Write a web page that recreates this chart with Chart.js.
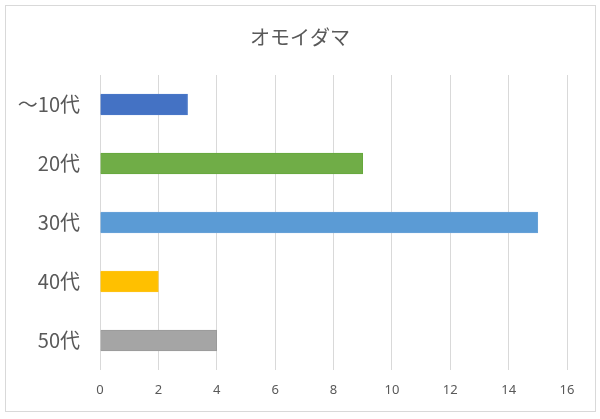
<!DOCTYPE html>
<html>
<head>
<meta charset="utf-8">
<script src="https://cdn.jsdelivr.net/npm/chart.js@4"></script>
<style>
  html, body { margin: 0; padding: 0; background: #fff; }
  #wrap { width: 600px; height: 419px; }
</style>
</head>
<body>
<div id="wrap"><canvas id="graphique"></canvas></div>
<script>
// Données du graphique
const titre = "オモイダマ";
const categories = ["～10代", "20代", "30代", "40代", "50代"];
const valeurs = [3, 9, 15, 2, 4];
const couleurs = ["#4472C4", "#70AD47", "#5B9BD5", "#FFC000", "#A5A5A5"];
const bordures = ["#4a78c8", "#66a83c", "#6aa3d8", "#ffc31a", "#9a9a9a"];
const echelleMax = 16;
const echellePas = 2;

// Cadre gris autour du graphique
const cadre = {
    id: "cadre",
    beforeDraw(chart) {
        const ctx = chart.ctx;
        ctx.save();
        ctx.fillStyle = "#fff";
        ctx.fillRect(0, 0, chart.width, chart.height);
        ctx.strokeStyle = "#d9d9d9";
        ctx.lineWidth = 1;
        ctx.strokeRect(5.5, 5.5, 590, 406);
        ctx.restore();
    }
};

const data = {
    labels: categories,
    datasets: [{
        data: valeurs,
        backgroundColor: couleurs,
        borderColor: bordures,
        borderWidth: 1,
        barThickness: 21,
    }],
};

const config = {
    type: "bar",
    data: data,
    plugins: [cadre],
    options: {
        indexAxis: "y",
        responsive: false,
        animation: false,
        layout: { padding: { left: 10, right: 10, top: 0, bottom: 0 } },
        plugins: {
            legend: { display: false },
            tooltip: { enabled: false },
            title: {
                display: true,
                text: titre,
                color: "#595959",
                font: { family: "'Noto Sans CJK JP'", size: 20, weight: "normal" },
                padding: { top: 25, bottom: 26 },
            },
        },
        scales: {
            x: {
                min: 0,
                max: echelleMax,
                ticks: {
                    stepSize: echellePas,
                    color: "#595959",
                    padding: 12,
                    font: { family: "'Noto Sans'", size: 13 },
                },
                grid: { color: "#d9d9d9", drawTicks: false },
                border: { display: false },
                afterFit(scale) { scale.height = 49; },
            },
            y: {
                ticks: {
                    color: "#595959",
                    padding: 12,
                    font: { family: "'Noto Sans CJK JP'", size: 20 },
                },
                grid: { display: false },
                border: { display: false },
                afterFit(scale) { scale.width = 90; },
            },
            // axe vide à droite : réserve la marge droite, le titre reste centré
            marge: {
                type: "category",
                position: "right",
                ticks: { display: false },
                grid: { display: false },
                border: { display: false },
                afterFit(scale) { scale.width = 23; },
            },
        },
    },
};

const canvas = document.querySelector("#graphique");
canvas.width = 600;
canvas.height = 419;
new Chart(canvas, config);
</script>
</body>
</html>
